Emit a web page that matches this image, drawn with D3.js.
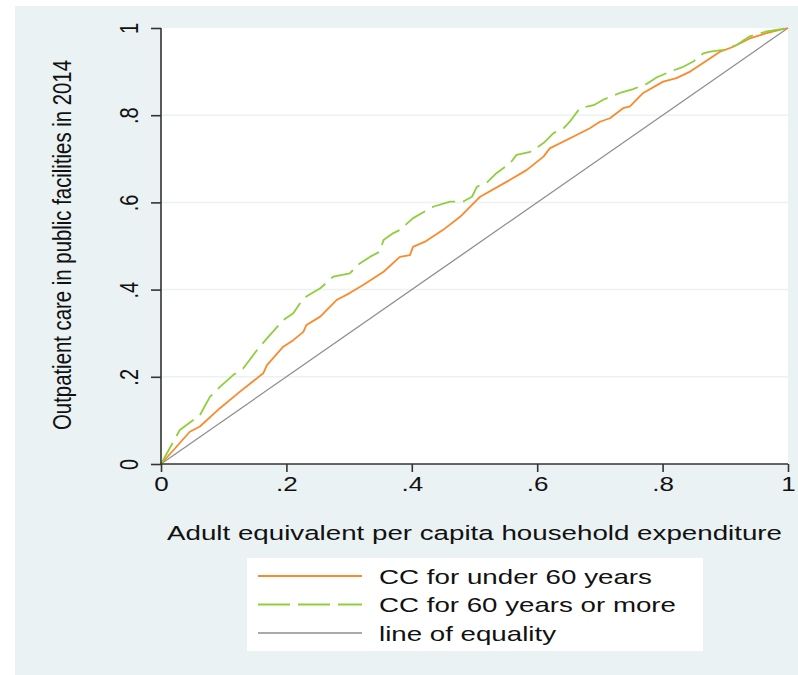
<!DOCTYPE html>
<html><head><meta charset="utf-8">
<script src="https://cdn.jsdelivr.net/npm/d3@7"></script>
<style>html,body{margin:0;padding:0;background:#fff;}svg{display:block;}</style>
</head><body>
<script>
// ---- data ----
const xTicks = [0, 0.2, 0.4, 0.6, 0.8, 1];
const yTicks = [0, 0.2, 0.4, 0.6, 0.8, 1];
const xTickLabels = ["0", ".2", ".4", ".6", ".8", "1"];
const yTickLabels = ["0", ".2", ".4", ".6", ".8", "1"];
const seriesNames = ["CC for under 60 years", "CC for 60 years or more", "line of equality"];
const xTitle = "Adult equivalent per capita household expenditure";
const yTitle = "Outpatient care in public facilities in 2014";

const under60X = [0,.046,.062,.094,.126,.163,.169,.195,.211,.227,.232,.254,.280,.301,.323,.355,.381,.397,.402,.421,.450,.477,.504,.509,.551,.583,.610,.620,.658,.684,.700,.716,.737,.748,.769,.801,.822,.844,.870,.892,.913,.939,.966,1];
const under60Y = [0,.074,.086,.128,.166,.208,.227,.269,.284,.303,.319,.338,.376,.392,.411,.441,.475,.479,.498,.510,.537,.567,.606,.613,.647,.674,.705,.724,.751,.770,.785,.793,.816,.820,.851,.877,.885,.900,.925,.946,.957,.976,.988,1];
const over60X = [0,.030,.062,.078,.094,.115,.131,.153,.169,.195,.211,.227,.254,.275,.301,.317,.333,.349,.355,.370,.381,.402,.434,.461,.482,.496,.504,.519,.535,.557,.567,.589,.610,.626,.642,.652,.668,.690,.706,.732,.753,.775,.791,.812,.833,.849,.865,.876,.897,.918,.939,.966,1];
const over60Y = [0,.078,.112,.154,.177,.204,.219,.261,.288,.330,.346,.380,.403,.430,.437,.460,.475,.487,.514,.529,.537,.564,.590,.602,.602,.613,.636,.644,.667,.690,.709,.716,.736,.759,.770,.785,.816,.823,.836,.851,.860,.872,.887,.900,.911,.923,.942,.946,.950,.961,.981,.992,1];
const equalityX = [0, 1];
const equalityY = [0, 1];

// ---- layout ----
const W = 798, H = 675;
const SX = 1.3; // horizontal text stretch
const plot = {left: 161, right: 788, top: 28, bottom: 464};
const colors = {under: "#fb8a2c", over: "#8fcf3c", eq: "#8e8e8e", bg: "#eaf2f3", axis: "#333333", text: "#111111"};
const font = "'Liberation Sans', Arial, Helvetica, sans-serif";

const svg = d3.select("body").append("svg").attr("width", W).attr("height", H);
svg.append("rect").attr("x", 0).attr("y", 0).attr("width", W).attr("height", H).attr("fill", "#fff");
svg.append("rect").attr("x", 15).attr("y", 6).attr("width", W - 15).attr("height", H - 6).attr("fill", colors.bg);
svg.append("rect").attr("x", plot.left).attr("y", plot.top).attr("width", plot.right - plot.left).attr("height", plot.bottom - plot.top).attr("fill", "#fff");

const x = d3.scaleLinear().domain([0, 1]).range([plot.left, plot.right]);
const y = d3.scaleLinear().domain([0, 1]).range([plot.bottom, plot.top]);

// gridlines
svg.append("g").selectAll("line").data(yTicks.filter(v => v > 0 && v < 1)).join("line")
  .attr("x1", plot.left).attr("x2", plot.right)
  .attr("y1", d => y(d)).attr("y2", d => y(d))
  .attr("stroke", colors.bg).attr("stroke-width", 1.5);

// lines
const line = d3.line().x(d => x(d[0])).y(d => y(d[1]));
const zip = (a, b) => a.map((v, i) => [v, b[i]]);
svg.append("path").datum(zip(equalityX, equalityY)).attr("d", line)
  .attr("fill", "none").attr("stroke", colors.eq).attr("stroke-width", 1.3);
svg.append("path").datum(zip(under60X, under60Y)).attr("d", line)
  .attr("fill", "none").attr("stroke", colors.under).attr("stroke-width", 1.8).attr("stroke-linejoin", "round");
svg.append("path").datum(zip(over60X, over60Y)).attr("d", line)
  .attr("fill", "none").attr("stroke", colors.over).attr("stroke-width", 1.8)
  .attr("stroke-dasharray", "24,8").attr("stroke-linejoin", "round");

// axes
const yAxis = svg.append("g").attr("transform", `translate(${plot.left},0)`)
  .call(d3.axisLeft(y).tickValues(yTicks).tickSize(10).tickFormat((d, i) => yTickLabels[i]));
const xAxis = svg.append("g").attr("transform", `translate(0,${plot.bottom})`)
  .call(d3.axisBottom(x).tickValues(xTicks).tickSize(8).tickFormat((d, i) => xTickLabels[i]));
[yAxis, xAxis].forEach(g => {
  g.select(".domain").attr("stroke", colors.axis).attr("stroke-width", 1.6);
  g.selectAll(".tick line").attr("stroke", colors.axis).attr("stroke-width", 1.6);
});
yAxis.select(".domain").attr("d", `M0,${y(0)}V${y(1)}`);
xAxis.select(".domain").attr("d", `M${x(0)},0H${x(1)}`);

yAxis.selectAll(".tick text")
  .attr("x", null).attr("dy", null).attr("y", null)
  .attr("transform", `translate(${137.5 - plot.left},0) scale(${SX},1) rotate(-90)`)
  .attr("text-anchor", "middle").attr("font-family", font).attr("font-size", 20).attr("fill", colors.text);
xAxis.selectAll(".tick text")
  .attr("y", null).attr("dy", null)
  .attr("transform", `translate(0,${491 - plot.bottom}) scale(${SX},1)`)
  .attr("text-anchor", "middle").attr("font-family", font).attr("font-size", 20).attr("fill", colors.text);

// titles
svg.append("text").attr("transform", `translate(167,540) scale(${SX},1)`)
  .attr("font-family", font).attr("font-size", 19.5).attr("fill", colors.text)
  .attr("textLength", 615 / SX).attr("lengthAdjust", "spacingAndGlyphs")
  .text(xTitle);
svg.append("text").attr("transform", `translate(70.5,430) scale(${SX},1) rotate(-90)`)
  .attr("font-family", font).attr("font-size", 20).attr("fill", colors.text)
  .attr("textLength", 370).attr("lengthAdjust", "spacingAndGlyphs")
  .text(yTitle);

// legend
const leg = svg.append("g");
leg.append("rect").attr("x", 247).attr("y", 558).attr("width", 456).attr("height", 93).attr("fill", "#fff");
const legStyles = [
  {c: colors.under, w: 1.8, dash: null},
  {c: colors.over, w: 1.8, dash: "32,8"},
  {c: colors.eq, w: 1.3, dash: null}
];
const legY = [576, 604.5, 633];
const legTextW = [273, 297, 177];
seriesNames.forEach((name, i) => {
  leg.append("line").attr("x1", 258).attr("x2", 362).attr("y1", legY[i]).attr("y2", legY[i])
    .attr("stroke", legStyles[i].c).attr("stroke-width", legStyles[i].w)
    .attr("stroke-dasharray", legStyles[i].dash);
  leg.append("text").attr("transform", `translate(379,${legY[i] + 7.5}) scale(${SX},1)`)
    .attr("font-family", font).attr("font-size", 20).attr("fill", colors.text)
    .attr("textLength", legTextW[i] / SX).attr("lengthAdjust", "spacingAndGlyphs")
    .text(name);
});
</script>
</body></html>
